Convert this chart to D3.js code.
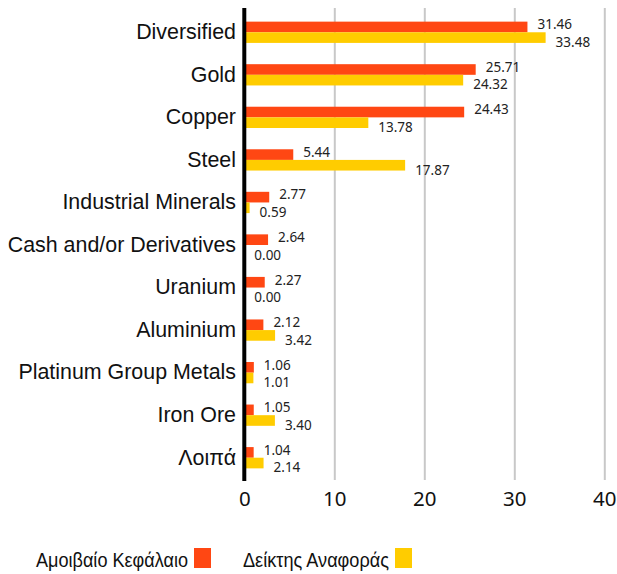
<!DOCTYPE html>
<html>
<head>
<meta charset="utf-8">
<script src="https://cdn.jsdelivr.net/npm/d3@7"></script>
<style>
  body { margin: 0; background: #fff; }
  svg { display: block; }
</style>
</head>
<body>
<div class="chart"></div>
<script>
  var categories = ["Diversified", "Gold", "Copper", "Steel", "Industrial Minerals",
                    "Cash and/or Derivatives", "Uranium", "Aluminium",
                    "Platinum Group Metals", "Iron Ore", "Λοιπά"];
  var fundValues = [31.46, 25.71, 24.43, 5.44, 2.77, 2.64, 2.27, 2.12, 1.06, 1.05, 1.04];
  var benchValues = [33.48, 24.32, 13.78, 17.87, 0.59, 0.00, 0.00, 3.42, 1.01, 3.40, 2.14];
  var seriesNames = ["Αμοιβαίο Κεφάλαιο", "Δείκτης Αναφοράς"];
  var xTicks = [0, 10, 20, 30, 40];

  var w = 617;
  var h = 574;
  var colors = ["#ff4713", "#ffcc00"];

  var svg = d3.select(".chart")
              .append("svg")
              .attr("width", w)
              .attr("height", h);

  var x = d3.scaleLinear().domain([0, 40]).range([244.3, 604.3]);
  var y = d3.scaleBand().domain(categories).range([11, 479])
            .paddingInner(0.5).paddingOuter(0.25);
  var ySub = d3.scaleBand().domain([0, 1]).range([0, y.bandwidth()]);

  // gridlines + tick labels
  var xAxis = svg.append("g")
      .attr("transform", "translate(0,480)")
      .call(d3.axisBottom(x).tickValues(xTicks).tickSize(-472).tickPadding(11));
  xAxis.select(".domain").remove();
  xAxis.selectAll("line").attr("stroke", "#c8c8c8").attr("stroke-width", 2);
  xAxis.selectAll("text")
      .attr("font-family", "'Noto Sans', sans-serif")
      .attr("font-size", "20.5px")
      .attr("fill", "#111");

  var rows = categories.map(function(c, i) {
    return [fundValues[i], benchValues[i]];
  });

  var groups = svg.selectAll("g.row")
                  .data(rows)
                  .enter()
                  .append("g")
                  .attr("class", "row")
                  .attr("transform", function(d, i) {
                    return "translate(0," + y(categories[i]) + ")";
                  });

  groups.selectAll("rect")
        .data(function(d) { return d; })
        .enter()
        .append("rect")
        .attr("x", x(0))
        .attr("y", function(d, j) { return ySub(j); })
        .attr("width", function(d) { return x(d) - x(0); })
        .attr("height", ySub.bandwidth())
        .attr("fill", function(d, j) { return colors[j]; });

  groups.selectAll("text")
        .data(function(d) { return d; })
        .enter()
        .append("text")
        .text(function(d) { return d.toFixed(2); })
        .attr("x", function(d) { return x(d) + 10; })
        .attr("y", function(d, j) {
          return j === 0 ? ySub(0) + ySub.bandwidth() - 3 : ySub(1) + ySub.bandwidth() + 4;
        })
        .attr("font-family", "'Noto Sans', sans-serif")
        .attr("font-size", "13.5px")
        .attr("fill", "#222");

  // category labels
  var yAxis = svg.append("g")
      .attr("transform", "translate(244,0)")
      .call(d3.axisLeft(y).tickSize(0).tickPadding(8));
  yAxis.select(".domain").remove();
  yAxis.selectAll("text")
      .attr("font-family", "'Liberation Sans', Arial, sans-serif")
      .attr("font-size", "21.4px")
      .attr("fill", "#111");

  // axis line
  svg.append("line")
     .attr("x1", x(0)).attr("x2", x(0))
     .attr("y1", 8).attr("y2", 481)
     .attr("stroke", "#000")
     .attr("stroke-width", 4);

  // legend
  var legendX = [36, 243];
  var legendW = [152, 146];
  var legend = svg.selectAll("g.legend")
                  .data(seriesNames)
                  .enter()
                  .append("g")
                  .attr("class", "legend");

  legend.append("text")
        .text(function(d) { return d; })
        .attr("x", function(d, i) { return legendX[i]; })
        .attr("y", 567)
        .attr("textLength", function(d, i) { return legendW[i]; })
        .attr("lengthAdjust", "spacingAndGlyphs")
        .attr("font-family", "'Liberation Sans', Arial, sans-serif")
        .attr("font-size", "19.5px")
        .attr("fill", "#111");

  legend.append("rect")
        .attr("x", function(d, i) { return legendX[i] + legendW[i] + 6; })
        .attr("y", 548)
        .attr("width", 17)
        .attr("height", 20)
        .attr("fill", function(d, i) { return colors[i]; });
</script>
</body>
</html>
